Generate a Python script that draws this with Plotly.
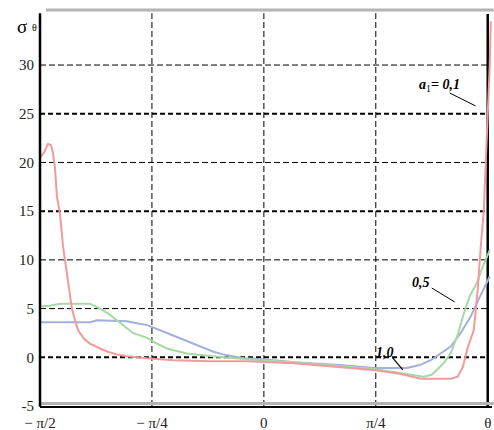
import math
import plotly.graph_objects as go

# ---- data (theta in radians, sigma_theta values) ----
theta_a01 = [-1.571, -1.543, -1.515, -1.494, -1.480, -1.466, -1.452, -1.431, -1.410, -1.396,
             -1.375, -1.347, -1.325, -1.304, -1.262, -1.220, -1.150, -1.101, -1.031, -0.961,
             -0.820, -0.638, -0.379, -0.119, 0.211, 0.463, 0.771, 0.954, 1.101, 1.311,
             1.360, 1.396, 1.431, 1.473, 1.501, 1.522, 1.543, 1.557, 1.571, 1.585, 1.592]
sigma_a01 = [20.5, 21.0, 21.9, 21.8, 21.0, 19.5, 16.5, 14.8, 11.5, 10.0,
             7.5, 5.0, 3.8, 2.8, 1.9, 1.4, 0.9, 0.6, 0.3, 0.1,
             -0.1, -0.3, -0.4, -0.4, -0.6, -0.9, -1.3, -1.7, -2.2, -2.2,
             -2.0, -1.0, 1.0, 2.8, 7.0, 11.4, 15.0, 20.0, 25.0, 30.0, 34.5]

theta_a05 = [-1.571, -1.501, -1.431, -1.220, -1.150, -1.094, -1.031, -0.975, -0.919, -0.820,
             -0.750, -0.680, -0.540, -0.358, -0.119, 0.211, 0.533, 0.771, 0.954, 1.122,
             1.178, 1.213, 1.262, 1.311, 1.360, 1.403, 1.445, 1.494, 1.536, 1.585]
sigma_a05 = [5.2, 5.3, 5.5, 5.5, 5.0, 4.5, 3.8, 3.1, 2.5, 2.0,
             1.4, 0.9, 0.4, 0.1, -0.2, -0.5, -0.9, -1.2, -1.6, -2.0,
             -1.8, -1.3, -0.6, 0.4, 2.3, 4.5, 6.3, 7.6, 9.3, 11.0]

theta_a10 = [-1.571, -1.220, -1.171, -0.961, -0.891, -0.820, -0.750, -0.680, -0.610, -0.540,
             -0.449, -0.358, -0.288, -0.218, -0.140, 0.000, 0.211, 0.533, 0.771, 1.003,
             1.094, 1.171, 1.241, 1.311, 1.381, 1.452, 1.515, 1.585]
sigma_a10 = [3.6, 3.6, 3.8, 3.7, 3.5, 3.3, 2.9, 2.5, 2.1, 1.7,
             1.2, 0.6, 0.3, 0.1, -0.1, -0.2, -0.5, -0.8, -1.1, -1.1,
             -0.8, -0.3, 0.4, 1.1, 2.5, 4.2, 6.2, 8.3]

y_ticks = [30, 25, 20, 15, 10, 5, 0, -5]
x_tickvals = [-math.pi / 2, -math.pi / 4, 0, math.pi / 4, math.pi / 2]
x_ticktext = ["\u2212 \u03c0/2", "\u2212 \u03c0/4", "0", "\u03c0/4", "\u03b8"]
thick_grid = [25, 15, 0]
thin_grid = [30, 20, 10, 5]

XMIN, XMAX = -math.pi / 2, math.pi / 2 + 0.03
YMIN, YMAX = -5, 35.65
SERIF = "Liberation Serif, Times New Roman, serif"

fig = go.Figure()
fig.add_trace(go.Scatter(x=theta_a10, y=sigma_a10, mode="lines",
                         line=dict(color="#a3b0de", width=2), showlegend=False))
fig.add_trace(go.Scatter(x=theta_a05, y=sigma_a05, mode="lines",
                         line=dict(color="#a6d9a6", width=2), showlegend=False))
fig.add_trace(go.Scatter(x=theta_a01, y=sigma_a01, mode="lines",
                         line=dict(color="#f29a9a", width=2), showlegend=False))

shapes = []
xr_right = (math.pi / 2 - XMIN) / (XMAX - XMIN)
for v in thick_grid:
    shapes.append(dict(type="line", xref="paper", yref="y", x0=0, x1=xr_right, y0=v, y1=v,
                       line=dict(color="black", width=2, dash="5px,3px"), layer="below"))
for v in thin_grid:
    shapes.append(dict(type="line", xref="paper", yref="y", x0=0, x1=xr_right, y0=v, y1=v,
                       line=dict(color="black", width=1, dash="6px,3px"), layer="below"))
for v in [-math.pi / 4, 0, math.pi / 4]:
    shapes.append(dict(type="line", xref="x", yref="paper", x0=v, x1=v, y0=0, y1=0.992,
                       line=dict(color="black", width=1, dash="6px,3px"), layer="below"))
# top and bottom gray bars
shapes.append(dict(type="line", xref="paper", yref="paper", x0=0.013, x1=1.004, y0=1.0, y1=1.0,
                   line=dict(color="#b4b4b4", width=3)))
shapes.append(dict(type="line", xref="paper", yref="y", x0=0, x1=1.004, y0=-4.75, y1=-4.75,
                   line=dict(color="#b4b4b4", width=3)))
# left and right black axes
shapes.append(dict(type="line", xref="paper", yref="paper", x0=0, x1=0, y0=-0.002, y1=0.992,
                   line=dict(color="black", width=2.5)))
shapes.append(dict(type="line", xref="x", yref="paper", x0=math.pi / 2, x1=math.pi / 2,
                   y0=-0.002, y1=0.99, line=dict(color="black", width=2.5), layer="below"))
# leader lines for labels
shapes.append(dict(type="line", xref="x", yref="y", x0=1.304, y0=27.13, x1=1.486, y1=25.80,
                   line=dict(color="black", width=1)))
shapes.append(dict(type="line", xref="x", yref="y", x0=1.178, y0=7.11, x1=1.339, y1=5.68,
                   line=dict(color="black", width=1)))
shapes.append(dict(type="line", xref="x", yref="y", x0=0.904, y0=-0.07, x1=0.975, y1=-1.30,
                   line=dict(color="black", width=1.2)))

annotations = [
    dict(x=1.234, y=27.95, xref="x", yref="y", showarrow=False,
         text="<b><i>a</i></b><sub>1</sub><b><i>= 0,1</i></b>",
         font=dict(family=SERIF, size=14, color="black")),
    dict(x=1.100, y=7.63, xref="x", yref="y", showarrow=False,
         text="<b><i>0,5</i></b>", font=dict(family=SERIF, size=14, color="black")),
    dict(x=0.848, y=0.54, xref="x", yref="y", showarrow=False,
         text="<b><i>1,0</i></b>", font=dict(family=SERIF, size=14, color="black")),
    dict(x=-0.0553, y=0.99, xref="paper", yref="paper", showarrow=False,
         text="\u03c3", font=dict(family=SERIF, size=19, color="black")),
    dict(x=-0.0232, y=0.975, xref="paper", yref="paper", showarrow=False,
         text="\u03b8", font=dict(family=SERIF, size=10, color="black")),
]

fig.update_layout(
    width=494, height=430, autosize=False,
    margin=dict(l=40, r=2, t=10, b=24, autoexpand=False),
    paper_bgcolor="white", plot_bgcolor="white",
    shapes=shapes, annotations=annotations,
    xaxis=dict(range=[XMIN, XMAX], showgrid=False, zeroline=False, automargin=False,
               tickvals=x_tickvals, ticktext=x_ticktext, ticks="",
               ticklabelstandoff=2,
               showline=True, linecolor="black", linewidth=1.5,
               tickfont=dict(family=SERIF, size=15, color="#222")),
    yaxis=dict(range=[YMIN, YMAX], showgrid=False, zeroline=False, automargin=False,
               tickvals=y_ticks, ticktext=[str(t) for t in y_ticks], ticks="",
               ticklabelstandoff=5, showline=False,
               tickfont=dict(family=SERIF, size=15, color="#222")),
)

fig.write_html(
    "out.html",
    config={"displayModeBar": False},
    post_script=("document.body.style.margin='0';"
                 "document.body.style.overflow='hidden';"
                 "document.documentElement.style.overflow='hidden';"),
)
